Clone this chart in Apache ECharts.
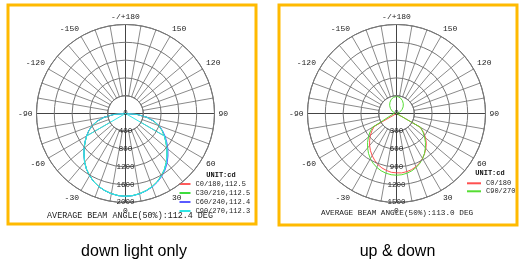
<!DOCTYPE html>
<html><head><meta charset="utf-8">
<script src="https://cdn.jsdelivr.net/npm/echarts@6/dist/echarts.min.js"></script>
<style>html,body{margin:0;padding:0;background:#fff}#c{width:525px;height:265px}</style>
</head><body><div id="c"></div>
<script>
// ---------- data ----------
// gamma angles (deg, 0 = straight down, + to the right)
const gammaDown = [-90,-85,-80,-75,-70,-65,-60,-55,-50,-45,-40,-35,-30,-25,-20,-15,-10,-5,0,5,10,15,20,25,30,35,40,45,50,55,60,65,70,75,80,85,90];
const gammaFull = [-180,-175,-170,-165,-160,-155,-150,-145,-140,-135,-130,-125,-120,-115,-110,-105,-100,-95,-90,-85,-80,-75,-70,-65,-60,-55,-50,-45,-40,-35,-30,-25,-20,-15,-10,-5,0,5,10,15,20,25,30,35,40,45,50,55,60,65,70,75,80,85,90,95,100,105,110,115,120,125,130,135,140,145,150,155,160,165,170,175,180];

// left: down light only (cd)
const leftC0   = [0,270,490,660,800,910,1010,1110,1215,1320,1430,1530,1615,1690,1750,1795,1830,1853,1860,1853,1830,1795,1750,1690,1615,1530,1430,1320,1215,1110,1010,910,800,660,490,270,0];
const leftC30  = [0,260,480,650,790,905,1005,1105,1210,1315,1425,1525,1610,1688,1748,1793,1828,1850,1858,1850,1828,1793,1748,1688,1610,1525,1425,1315,1210,1105,1005,905,790,650,480,260,0];
const leftC60  = [0,270,490,660,800,910,1010,1110,1215,1320,1430,1530,1615,1690,1750,1795,1830,1853,1860,1853,1832,1800,1758,1700,1630,1550,1455,1350,1245,1135,1030,920,805,660,490,270,0];
const leftC90  = [0,270,490,660,800,910,1010,1110,1215,1320,1430,1530,1615,1690,1750,1795,1830,1853,1860,1853,1830,1795,1750,1690,1615,1530,1430,1320,1215,1110,1010,910,800,660,490,270,0];
const leftC90b = [0,0,0,0,0,0,1010,1110,1215,1320,1430,1530,1615,1690,1750,1795,1830,1853,1860,1853,1830,1795,1750,1690,1615,1530,1430,1320,1215,1110,1010,0,0,0,0,0,0];

// right: up & down (cd)
const rightC0  = [0,0,0,0,0,0,435,505,575,640,705,765,820,870,915,950,975,995,1000,1005,995,980,955,920,875,825,770,710,640,560,460,0,0,0,0,0,0];
const rightC90 = [287,285,278,268,255,238,220,200,180,158,135,112,90,68,50,32,18,8,0,0,0,0,0,0,470,545,618,690,757,822,880,928,968,1000,1022,1036,1040,1036,1022,1000,968,928,880,822,757,690,618,545,470,0,0,0,0,0,0,8,18,32,50,68,90,112,135,158,180,200,220,238,255,268,278,285,287];

// axes / labels
const leftRadiusMax = 2000, leftRadiusStep = 400;
const rightRadiusMax = 1500, rightRadiusStep = 300;
const angleLabels = ['0','30','60','90','120','150','-/+180','-150','-120','-90','-60','-30'];
const leftNames = ['C0/180,112.5','C30/210,112.5','C60/240,112.4','C90/270,112.3'];
const rightNames = ['C0/180','C90/270'];
const leftBeam = 'AVERAGE BEAM ANGLE(50%):112.4 DEG';
const rightBeam = 'AVERAGE BEAM ANGLE(50%):113.0 DEG';
const captions = ['down light only','up & down'];

// ---------- chart ----------
const MONO = 'Liberation Mono';
function toPolar(angles, vals){ return vals.map((v,i)=>[v, (angles[i]+360)%360]); }
const cL = [125.5,113.5], cR = [396.5,113.5], R = 89, R0 = 17.8;

function angleGrid(pi){
  return {polarIndex:pi, type:'value', min:0, max:360, interval:10, startAngle:270, clockwise:false,
    axisLine:{lineStyle:{color:'#666',width:1}}, axisTick:{show:false},
    splitLine:{lineStyle:{color:'#8a8a8a',width:1}},
    axisLabel:{margin:4, fontFamily:MONO, fontSize:8, color:'#222',
      formatter:v=> (v%30===0 && v<360) ? angleLabels[v/30] : ''}};
}
function angleMain(pi){
  return {polarIndex:pi, type:'value', min:0, max:360, interval:90, startAngle:270, clockwise:false,
    axisLine:{show:false}, axisTick:{show:false}, axisLabel:{show:false},
    splitLine:{lineStyle:{color:'#444',width:1}}};
}
function radHidden(pi,max){
  return {polarIndex:pi, type:'value', min:0, max:max, axisLine:{show:false}, axisTick:{show:false}, axisLabel:{show:false}, splitLine:{show:false}};
}
function radMain(pi,max,step){
  return {polarIndex:pi, type:'value', min:0, max:max, interval:step, z:5,
    axisLine:{show:false}, axisTick:{show:false},
    splitLine:{show:true, lineStyle:{color:'#777',width:1}},
    axisLabel:{margin:0, align:'center', verticalAlign:'middle', padding:[0,0,5,0], fontFamily:MONO, fontSize:7.5, color:'#222',
      formatter:v=>String(v)}};
}
function line(name, pi, angles, vals, color){
  return {name, type:'line', coordinateSystem:'polar', polarIndex:pi, data:toPolar(angles, vals),
    symbol:'none', silent:true, animation:false, itemStyle:{color}, lineStyle:{color, width:1}};
}
function txt(text,x,y,size,fam,weight,fill){
  return {type:'text', silent:true, style:{text, x, y, align:'center', verticalAlign:'middle', textAlign:'center', textVerticalAlign:'middle', fontSize:size, fontFamily:fam, fontWeight:weight||'normal', fill:fill||'#222'}};
}

const chart = echarts.init(document.getElementById('c'), null, {renderer:'canvas'});
chart.setOption({
  animation:false,
  polar:[
    {center:cL, radius:[R0,R]}, {center:cL, radius:[0,R]},
    {center:cR, radius:[R0,R]}, {center:cR, radius:[0,R]}
  ],
  angleAxis:[angleGrid(0), angleMain(1), angleGrid(2), angleMain(3)],
  radiusAxis:[radHidden(0,leftRadiusMax), radMain(1,leftRadiusMax,leftRadiusStep), radHidden(2,rightRadiusMax), radMain(3,rightRadiusMax,rightRadiusStep)],
  legend:[
    {left:179.5, top:179.5, orient:'vertical', padding:0, itemWidth:11, itemHeight:2, itemGap:0, icon:'rect', selectedMode:false,
     data:leftNames, textStyle:{fontFamily:MONO, fontSize:7, color:'#222', lineHeight:9}},
    {left:467, top:179.3, orient:'vertical', padding:0, itemWidth:14, itemHeight:2, itemGap:0, icon:'rect', selectedMode:false,
     data:rightNames, textStyle:{fontFamily:MONO, fontSize:7, color:'#222', lineHeight:8}}
  ],
  series:[
    line(leftNames[0],1,gammaDown,leftC0,'#ff5a5a'),
    line(leftNames[1],1,gammaDown,leftC30,'#3ddc3d'),
    line(leftNames[2],1,gammaDown,leftC60,'#5a5aff'),
    line(leftNames[3],1,gammaDown,leftC90b,'#2ee6e6'),
    line(leftNames[3],1,gammaDown,leftC90,'#2ee6e6'),
    line(rightNames[0],3,gammaDown,rightC0,'#ff5050'),
    line(rightNames[1],3,gammaFull,rightC90,'#55dd33')
  ],
  graphic:[
    {type:'rect', silent:true, shape:{x:8, y:5, width:248, height:219}, style:{fill:'none', stroke:'#FFBA00', lineWidth:3}},
    {type:'rect', silent:true, shape:{x:279, y:5, width:238, height:220}, style:{fill:'none', stroke:'#FFBA00', lineWidth:3}},
    txt('UNIT:cd',221,175.5,7,MONO,'bold','#111'),
    txt('UNIT:cd',490,173.5,7,MONO,'bold','#111'),
    txt(leftBeam,130,216,8.4,MONO,'normal','#222'),
    txt(rightBeam,397,213.3,7.7,MONO,'normal','#222'),
    txt(captions[0],134,252,16,'Liberation Sans','normal','#000'),
    txt(captions[1],397.5,252,16,'Liberation Sans','normal','#000')
  ]
});
</script></body></html>
